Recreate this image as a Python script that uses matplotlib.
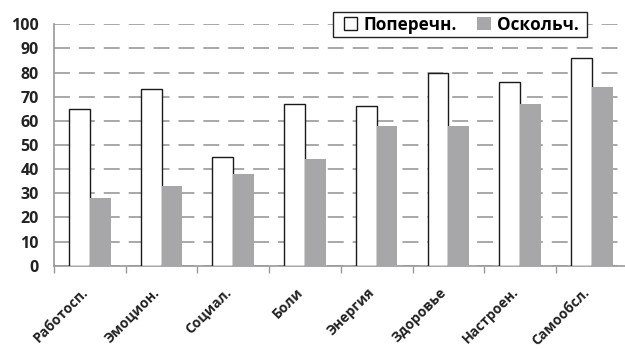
import numpy as np
import matplotlib
matplotlib.use('Agg')
import matplotlib.pyplot as plt
import matplotlib.transforms as mtransforms
from matplotlib.patches import Rectangle

categories = ['Работосп.', 'Эмоцион.', 'Социал.', 'Боли', 'Энергия',
              'Здоровье', 'Настроен.', 'Самообсл.']
transverse = [65, 73, 45, 67, 66, 80, 76, 86]
comminuted = [28, 33, 38, 44, 58, 58, 67, 74]
series_names = ['Поперечн.', 'Оскольч.']
y_ticks = list(range(0, 101, 10))

plt.rcParams['font.family'] = ['Open Sans', 'DejaVu Sans']
plt.rcParams['font.weight'] = 'bold'

W, H = 625, 349
fig = plt.figure(figsize=(W / 100, H / 100), dpi=100)
ax = fig.add_axes([54 / W, 83.3 / H, 573.6 / W, 241.4 / H])

x = np.arange(len(categories))
w = 0.29
ax.bar(x - w / 2, transverse, w, color='white', edgecolor='#1a1a1a',
       linewidth=1.0, label=series_names[0], zorder=3)
ax.bar(x + w / 2, comminuted, w, color='#a7a7aa', edgecolor='none',
       label=series_names[1], zorder=3)

ax.set_xlim(-0.5, len(categories) - 0.5)
ax.set_ylim(0, 100)
ax.set_yticks(y_ticks)
ax.set_yticklabels([str(v) for v in y_ticks], fontsize=11.5, fontweight='bold',
                   color='#222222')
ax.tick_params(axis='y', length=0, pad=11)
ax.yaxis.grid(True, color='#a8a8a8', linewidth=1.4, linestyle=(0, (8.2, 4.6)),
              zorder=1)

# category boundaries get the ticks, labels sit at the centres
ax.set_xticks(np.arange(len(categories) + 1) - 0.5)
ax.set_xticklabels([])
ax.set_xticks(x, minor=True)
ax.set_xticklabels(categories, minor=True, rotation=45, ha='right',
                   rotation_mode='anchor', fontsize=10, fontweight='bold',
                   color='#222222')
ax.tick_params(axis='x', which='major', length=5, color='#999999', width=1)
ax.tick_params(axis='x', which='minor', length=0, pad=14)
shift = mtransforms.ScaledTranslation(-9 / 100, 0, fig.dpi_scale_trans)
for lbl in ax.get_xticklabels(minor=True):
    lbl.set_transform(lbl.get_transform() + shift)

for side in ['top', 'right']:
    ax.spines[side].set_visible(False)
for side in ['left', 'bottom']:
    ax.spines[side].set_color('#999999')
    ax.spines[side].set_linewidth(1.2)

# legend box drawn separately so its size stays tight around the entries
box = Rectangle((333 / W, 1 - 37 / H), 254 / W, 25 / H, transform=fig.transFigure,
                facecolor='white', edgecolor='#222222', linewidth=1.0, zorder=5)
fig.patches.append(box)
leg = fig.legend(loc='center', bbox_to_anchor=(461 / W, 1 - 24.5 / H),
                 ncol=2, frameon=False,
                 prop={'size': 12.3, 'weight': 'bold'}, handlelength=0.8,
                 handleheight=0.8, handletextpad=0.35, columnspacing=1.2,
                 borderpad=0, borderaxespad=0)
leg.set_zorder(6)

fig.savefig('out.png', dpi=100)
